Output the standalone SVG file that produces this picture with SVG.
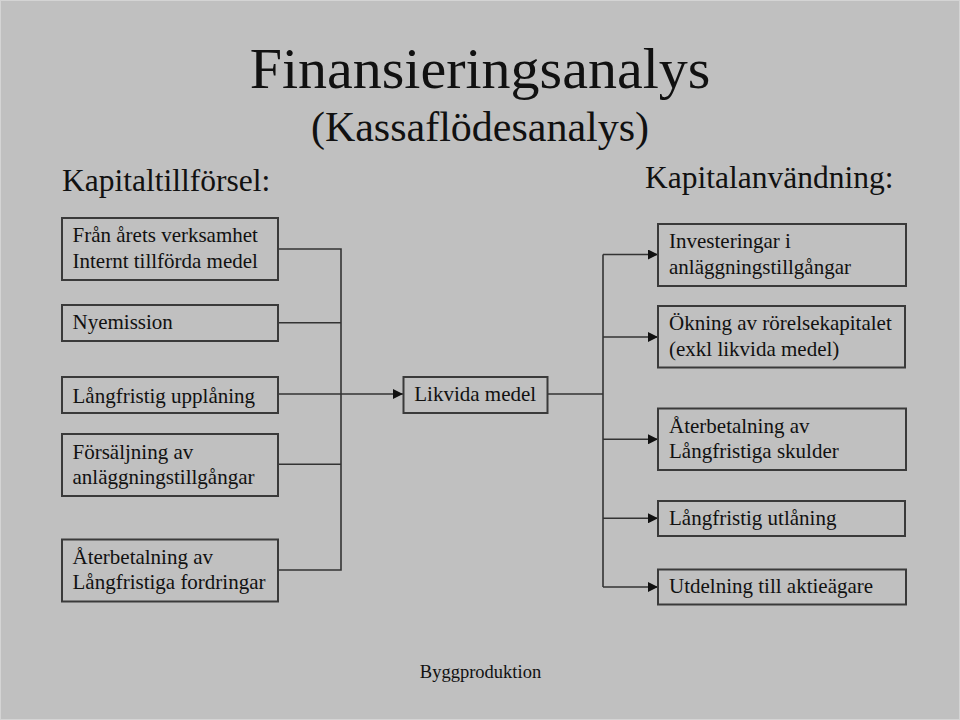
<svg xmlns="http://www.w3.org/2000/svg" width="960" height="720" viewBox="0 0 960 720">
<style>
text{font-family:"Liberation Serif","Times New Roman",serif;fill:#111}
.box{fill:#c0c0c0;stroke:#3a3a3a;stroke-width:2}
.t{font-size:21px}
.con{fill:none;stroke:#333;stroke-width:1.6}
</style>
<defs>
<marker id="arr" viewBox="0 0 10 10" refX="10" refY="5" markerWidth="10" markerHeight="10" markerUnits="userSpaceOnUse" orient="auto">
<path d="M0,0 L10,5 L0,10 Z" fill="#111"/>
</marker>
</defs>
<rect width="960" height="720" fill="#c0c0c0"/>
<rect x="0.5" y="0.5" width="959" height="719" fill="none" stroke="#d4d4d4" stroke-width="1"/>
<text x="480" y="88" font-size="58" text-anchor="middle">Finansieringsanalys</text>
<text x="480" y="141" font-size="42" text-anchor="middle">(Kassaflödesanalys)</text>
<text x="62" y="191" font-size="31.5">Kapitaltillförsel:</text>
<text x="645" y="188" font-size="31.5">Kapitalanvändning:</text>

<g id="connectors">
<path class="con" d="M278,249 H341 V570 H278 M278,322.7 H341 M278,464.3 H341 M278,394 H341"/>
<path class="con" d="M341,394 H403" marker-end="url(#arr)"/>
<path class="con" d="M548,394 H603 M603,254.5 V587"/>
<path class="con" d="M603,254.5 H658" marker-end="url(#arr)"/>
<path class="con" d="M603,337 H658" marker-end="url(#arr)"/>
<path class="con" d="M603,439.3 H658" marker-end="url(#arr)"/>
<path class="con" d="M603,518.3 H658" marker-end="url(#arr)"/>
<path class="con" d="M603,587 H658" marker-end="url(#arr)"/>
</g>

<g id="fran-arets-verksamhet">
<rect class="box" x="62" y="218" width="216" height="62"/>
<text class="t" x="72.5" y="242.3">Från årets verksamhet</text>
<text class="t" x="72.5" y="268.3">Internt tillförda medel</text>
</g>
<g id="nyemission">
<rect class="box" x="62" y="305" width="216" height="36"/>
<text class="t" x="72.5" y="329.3">Nyemission</text>
</g>
<g id="langfristig-upplaning">
<rect class="box" x="62" y="377" width="216" height="36"/>
<text class="t" x="72.5" y="402.7">Långfristig upplåning</text>
</g>
<g id="forsaljning">
<rect class="box" x="62" y="434" width="216" height="62"/>
<text class="t" x="72.5" y="459.3">Försäljning av</text>
<text class="t" x="72.5" y="484">anläggningstillgångar</text>
</g>
<g id="aterbetalning-fordringar">
<rect class="box" x="62" y="539.5" width="216" height="62"/>
<text class="t" x="72.5" y="564">Återbetalning av</text>
<text class="t" x="72.5" y="588.7">Långfristiga fordringar</text>
</g>

<g id="likvida-medel">
<rect class="box" x="403.5" y="377" width="144" height="36"/>
<text class="t" x="414.3" y="401">Likvida medel</text>
</g>

<g id="investeringar">
<rect class="box" x="658" y="224" width="248" height="62"/>
<text class="t" x="669" y="248.3">Investeringar i</text>
<text class="t" x="669" y="273.5">anläggningstillgångar</text>
</g>
<g id="okning-rorelsekapital">
<rect class="box" x="658" y="306" width="247" height="61.5"/>
<text class="t" x="669" y="330">Ökning av rörelsekapitalet</text>
<text class="t" x="669" y="355.7">(exkl likvida medel)</text>
</g>
<g id="aterbetalning-skulder">
<rect class="box" x="658" y="408.5" width="248" height="61.5"/>
<text class="t" x="669" y="432.7">Återbetalning av</text>
<text class="t" x="669" y="458.3">Långfristiga skulder</text>
</g>
<g id="langfristig-utlaning">
<rect class="box" x="658" y="501" width="247" height="35"/>
<text class="t" x="669" y="525">Långfristig utlåning</text>
</g>
<g id="utdelning">
<rect class="box" x="658" y="569.5" width="248" height="35"/>
<text class="t" x="669" y="593.3">Utdelning till aktieägare</text>
</g>

<text x="480.5" y="678" font-size="18.5" text-anchor="middle">Byggproduktion</text>
</svg>
